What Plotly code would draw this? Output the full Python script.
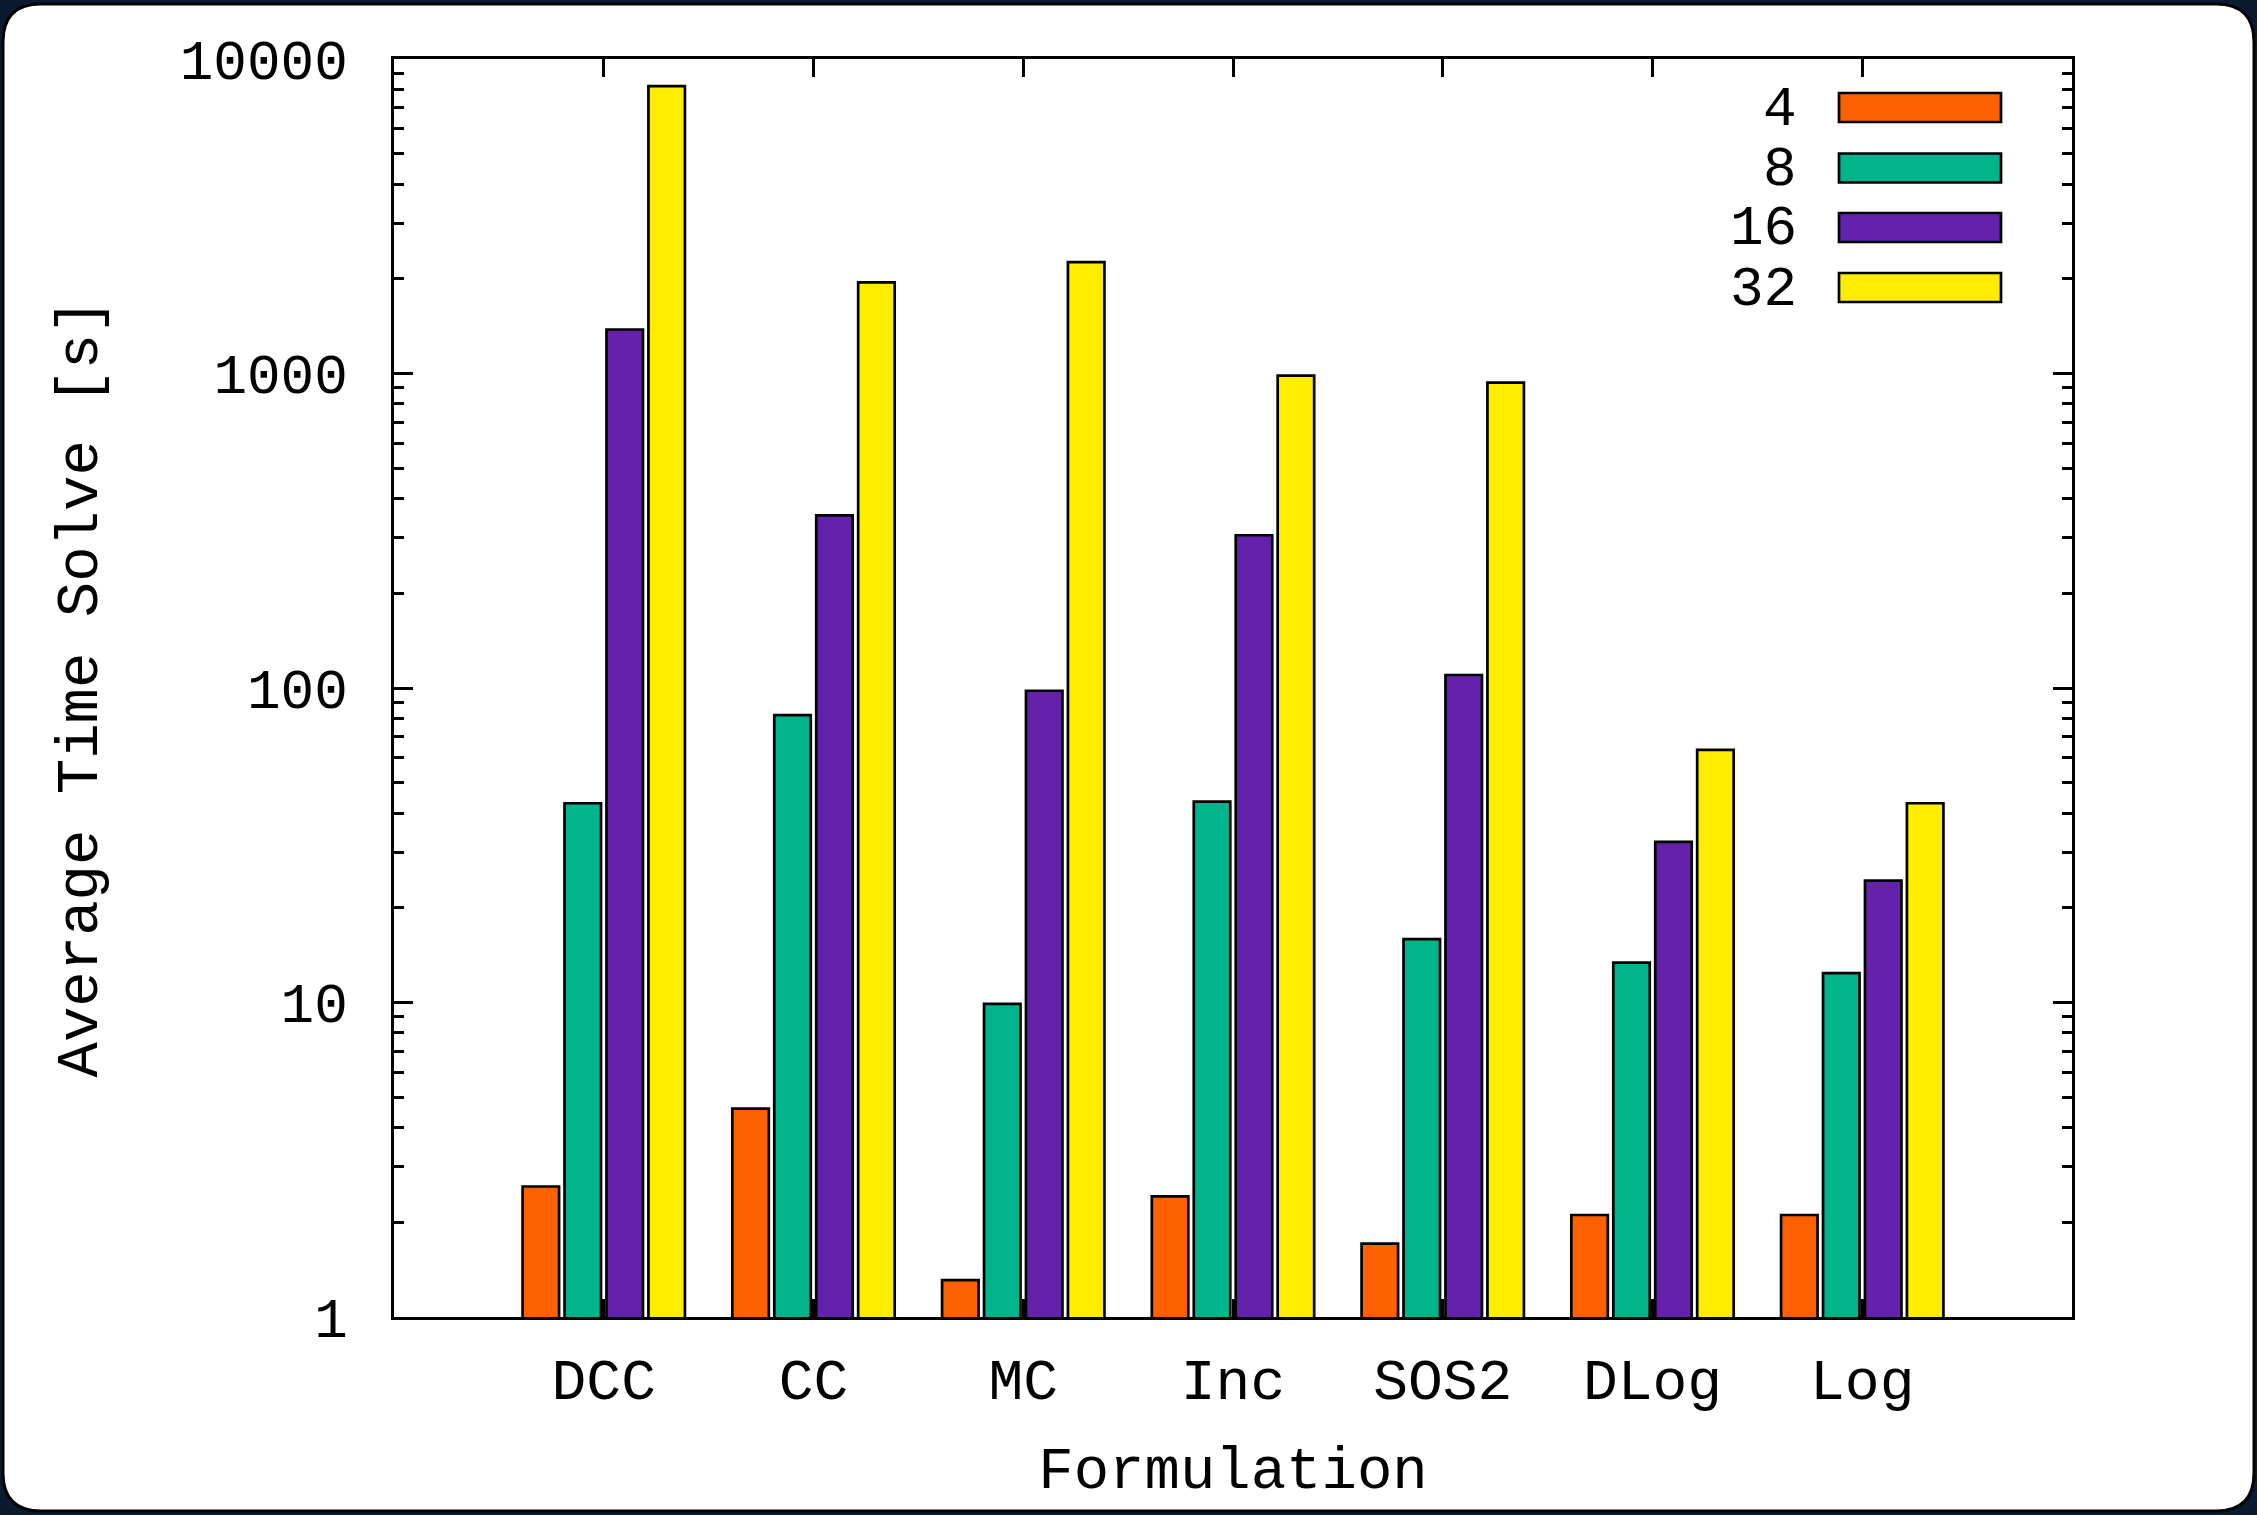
import plotly.graph_objects as go

# ---------------- data ----------------
categories = ["DCC", "CC", "MC", "Inc", "SOS2", "DLog", "Log"]
series_names = ["4", "8", "16", "32"]
vals_4 = [2.6, 4.6, 1.31, 2.42, 1.71, 2.11, 2.11]
vals_8 = [43, 82, 9.9, 43.5, 15.9, 13.4, 12.4]
vals_16 = [1380, 354, 98, 306, 110, 32.4, 24.4]
vals_32 = [8200, 1950, 2260, 985, 935, 63.6, 43]
series_values = [vals_4, vals_8, vals_16, vals_32]
colors = ["#FF6000", "#00B48C", "#6421AC", "#FFED00"]
ytick_vals = [1, 10, 100, 1000, 10000]
ytick_text = ["1", "10", "100", "1000", "10000"]
y_minor_vals = [m * d for d in (1, 10, 100, 1000) for m in range(2, 10)]

x_title = "Formulation"
y_title = "Average Time Solve [s]"

# ---------------- geometry (pixels) ----------------
W, H = 2257, 1515
PL, PR, PT, PB = 394, 2072, 59, 1317
FONT = "Liberation Mono, Courier New, monospace"


def px2x(px):
    return (px - PL) / (PR - PL)


def px2y(py):
    return (PB - py) / (PB - PT)


fig = go.Figure()
for name, vals, col in zip(series_names, series_values, colors):
    fig.add_trace(go.Bar(
        x=categories, y=vals, name=name,
        marker=dict(color=col, line=dict(color="black", width=2.7)),
        showlegend=False,
    ))

shapes = []
annotations = []

# rounded white panel on dark frame
l, t, r, b, rad = 3, 4, 2254, 1511, 38
path = (
    f"M {px2x(l + rad)},{px2y(t)} L {px2x(r - rad)},{px2y(t)} "
    f"Q {px2x(r)},{px2y(t)} {px2x(r)},{px2y(t + rad)} "
    f"L {px2x(r)},{px2y(b - rad)} "
    f"Q {px2x(r)},{px2y(b)} {px2x(r - rad)},{px2y(b)} "
    f"L {px2x(l + rad)},{px2y(b)} "
    f"Q {px2x(l)},{px2y(b)} {px2x(l)},{px2y(b - rad)} "
    f"L {px2x(l)},{px2y(t + rad)} "
    f"Q {px2x(l)},{px2y(t)} {px2x(l + rad)},{px2y(t)} Z"
)
shapes.append(dict(type="path", xref="paper", yref="paper", path=path,
                   fillcolor="white", line=dict(color="black", width=3),
                   layer="below"))

# manual legend (gnuplot style)
row_y = [107.5, 168, 227.5, 287.5]
for name, col, yc in zip(series_names, colors, row_y):
    shapes.append(dict(type="rect", xref="paper", yref="paper",
                       x0=px2x(1839), x1=px2x(2001),
                       y0=px2y(yc + 14.5), y1=px2y(yc - 14.5),
                       fillcolor=col, line=dict(color="black", width=2.7),
                       layer="above"))
    annotations.append(dict(xref="paper", yref="paper", x=px2x(1799), y=px2y(yc + 2),
                            text=name, showarrow=False, xanchor="right", yanchor="middle",
                            font=dict(family=FONT, size=56, color="black")))

fig.update_layout(
    width=W, height=H, autosize=False,
    margin=dict(l=PL, r=W - PR, t=PT, b=H - PB, pad=0),
    paper_bgcolor="#0b1a30",
    plot_bgcolor="white",
    barmode="group", bargap=0.2, bargroupgap=0.13,
    shapes=shapes, annotations=annotations,
    font=dict(family=FONT, color="black"),
    xaxis=dict(
        type="category", categoryorder="array", categoryarray=categories,
        range=[-1, len(categories)],
        ticks="inside", ticklen=18, tickwidth=2.5, tickcolor="black",
        showline=True, linecolor="black", linewidth=3, mirror="allticks",
        showgrid=False, zeroline=False,
        tickfont=dict(family=FONT, size=58, color="black"),
        ticklabelstandoff=9,
        title=dict(text=x_title, font=dict(family=FONT, size=59, color="black"), standoff=33),
    ),
    yaxis=dict(
        type="log", range=[0, 4],
        tickmode="array", tickvals=ytick_vals, ticktext=ytick_text,
        ticks="inside", ticklen=19, tickwidth=2.5, tickcolor="black",
        minor=dict(tickmode="array", tickvals=y_minor_vals, ticks="inside",
                   ticklen=10, tickwidth=2.5, tickcolor="black", showgrid=False),
        showline=True, linecolor="black", linewidth=3, mirror="allticks",
        showgrid=False, zeroline=False,
        tickfont=dict(family=FONT, size=56, color="black"),
        ticklabelstandoff=32,
        title=dict(text=y_title, font=dict(family=FONT, size=59, color="black"), standoff=64),
    ),
)

fig.write_html(
    "out.html",
    config={"displayModeBar": False},
    post_script="document.body.style.margin='0';document.body.style.padding='0';"
                "document.body.style.overflow='hidden';",
)
